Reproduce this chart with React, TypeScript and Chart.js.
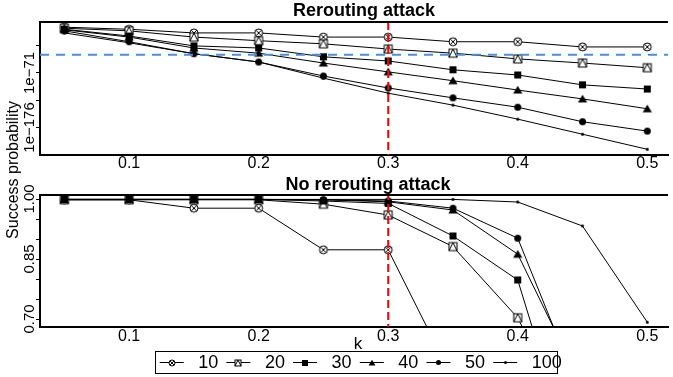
import React, { useEffect, useRef } from "react";
import { Chart, registerables } from "chart.js";

Chart.register(...registerables);

const FONT = "'Liberation Sans', Arial, Helvetica, sans-serif";

// ---------- data ----------
const kValues = [0.05, 0.1, 0.15, 0.2, 0.25, 0.3, 0.35, 0.4, 0.45, 0.5];
const seriesLabels = ["10", "20", "30", "40", "50", "100"];

// Rerouting attack: exponent (log10) of success probability
const reroute10 = [17, 13, 6, 6, -2, -2, -11, -11, -21, -21];
const reroute20 = [15, 10, -2, -9, -15, -25, -33, -44, -52, -61];
const reroute30 = [13, 0, -19, -23, -40, -48, -65, -75, -94, -102];
const reroute40 = [12, -2, -23, -33, -52, -69, -86, -104, -121, -140];
const reroute50 = [10, -11, -34, -50, -77, -100, -119, -137, -165, -183];
const reroute100 = [6, -13, -34, -50, -81, -110, -133, -160, -189, -218];

// No rerouting attack: success probability
const noReroute10 = [0.998, 0.998, 0.977, 0.977, 0.873, 0.873, 0.55, null, null, null];
const noReroute20 = [0.998, 0.998, 0.998, 0.998, 0.987, 0.96, 0.881, 0.703, 0.38, null];
const noReroute30 = [0.999, 0.999, 0.999, 0.999, 0.995, 0.989, 0.9075, 0.7975, 0.27, null];
const noReroute40 = [0.999, 0.999, 0.999, 0.999, 0.998, 0.993, 0.9725, 0.862, 0.53, null];
const noReroute50 = [0.999, 0.999, 0.999, 0.999, 0.998, 0.995, 0.977, 0.902, 0.5, null];
const noReroute100 = [0.999, 0.999, 0.999, 0.999, 0.999, 0.999, 0.999, 0.9925, 0.9325, 0.692];

const rerouteThreshold = -36; // blue dashed line (log10)
const kThreshold = 0.3; // red dashed line

const kRange = [0.0312, 0.516];
const xTicks = [0.1, 0.2, 0.3, 0.4, 0.5];
const topYRange = [-229, 27];
const topYTicks = [-18, -71, -124, -176];
const topYTickLabels = ["", "1e\u221271", "", "1e\u2212176"];
const bottomYRange = [0.68, 1.01];
const bottomYTicks = [1.0, 0.95, 0.9, 0.85, 0.8, 0.75, 0.7];
const bottomYTickLabels = ["1.00", "", "", "0.85", "", "", "0.70"];

const markerKinds = ["circleX", "squareTri", "square", "triangle", "circle", "dot"];
const markerSizes = [8, 8, 7, 8, 7, 3];
const legendMarkerSizes = [6, 6, 6, 6, 5, 3];

function makeMarker(kind: string, s: number): HTMLCanvasElement {
  const size = Math.ceil(s) + 4;
  const c = document.createElement("canvas");
  c.width = size;
  c.height = size;
  const g = c.getContext("2d")!;
  const m = size / 2;
  const h = s / 2;
  g.lineWidth = 1;
  g.strokeStyle = "#000";
  g.fillStyle = "#000";
  if (kind === "circleX") {
    g.beginPath();
    g.arc(m, m, h, 0, Math.PI * 2);
    g.fillStyle = "#fff";
    g.fill();
    g.stroke();
    const d = h * 0.7071;
    g.beginPath();
    g.moveTo(m - d, m - d);
    g.lineTo(m + d, m + d);
    g.moveTo(m + d, m - d);
    g.lineTo(m - d, m + d);
    g.stroke();
  } else if (kind === "squareTri") {
    g.fillStyle = "#fff";
    g.fillRect(m - h, m - h, s, s);
    g.strokeRect(m - h, m - h, s, s);
    g.beginPath();
    g.moveTo(m - h, m + h);
    g.lineTo(m, m - h);
    g.lineTo(m + h, m + h);
    g.stroke();
  } else if (kind === "square") {
    g.fillRect(m - h, m - h, s, s);
  } else if (kind === "triangle") {
    const tw = s * 1.15;
    g.beginPath();
    g.moveTo(m, m - h * 1.05);
    g.lineTo(m + tw / 2, m + h * 0.85);
    g.lineTo(m - tw / 2, m + h * 0.85);
    g.closePath();
    g.fill();
  } else {
    g.beginPath();
    g.arc(m, m, h, 0, Math.PI * 2);
    g.fill();
  }
  return c;
}

type PanelOpts = {
  values: (number | null)[][];
  yRange: number[];
  yTicks: number[];
  yLabels: string[];
  title: string;
  titleX: number;
  titleBaseline: number;
  padTop: number;
  padBottom: number;
  xAxisHeight: number;
  xTickPad: number;
  threshold?: number;
  redExtend: number;
  legend: boolean;
};

function makeConfig(o: PanelOpts, markers: HTMLCanvasElement[], legendMarkers: HTMLCanvasElement[]): any {
  const datasets: any[] = seriesLabels.map((label, i) => ({
    label,
    data: kValues.map((k, j) => ({ x: k, y: o.values[i][j] })),
    borderColor: "#000",
    backgroundColor: "#000",
    borderWidth: 1,
    pointStyle: markers[i],
    pointRadius: 4,
    pointHoverRadius: 4,
    tension: 0,
    spanGaps: false,
    order: -i,
    clip: { left: 8, right: 8, top: 8, bottom: 0 },
  }));
  if (o.threshold !== undefined) {
    datasets.push({
      label: "threshold",
      data: [
        { x: kRange[0], y: o.threshold },
        { x: kRange[1], y: o.threshold },
      ],
      borderColor: "#4a8fd8",
      borderWidth: 2,
      borderDash: [9, 7],
      pointRadius: 0,
      order: -20,
    });
  }

  const panelPlugin = {
    id: "panelDecor",
    afterDatasetsDraw(chart: any) {
      const { ctx, chartArea: a, scales } = chart;
      const x = scales.x.getPixelForValue(kThreshold);
      ctx.save();
      ctx.strokeStyle = "#ff0000";
      ctx.lineWidth = 2;
      ctx.setLineDash([8, 4]);
      ctx.beginPath();
      ctx.moveTo(x, a.top - o.redExtend);
      ctx.lineTo(x, a.bottom);
      ctx.stroke();
      ctx.restore();
    },
    afterDraw(chart: any) {
      const { ctx, chartArea: a, scales } = chart;
      ctx.save();
      // top border
      ctx.strokeStyle = "#000";
      ctx.lineWidth = 2;
      ctx.beginPath();
      ctx.moveTo(a.left - 1, a.top);
      ctx.lineTo(a.right, a.top);
      ctx.stroke();
      // title
      ctx.fillStyle = "#000";
      ctx.font = `bold 18px ${FONT}`;
      ctx.textAlign = "center";
      ctx.textBaseline = "alphabetic";
      ctx.fillText(o.title, o.titleX, o.titleBaseline);
      // rotated y tick labels
      ctx.font = `15px ${FONT}`;
      o.yTicks.forEach((v, i) => {
        const lab = o.yLabels[i];
        if (!lab) return;
        const py = scales.y.getPixelForValue(v);
        ctx.save();
        ctx.translate(34, py);
        ctx.rotate(-Math.PI / 2);
        ctx.textAlign = "center";
        ctx.textBaseline = "alphabetic";
        ctx.fillText(lab, 0, 0);
        ctx.restore();
      });
      if (o.legend) {
        // x-axis title
        ctx.font = `17px ${FONT}`;
        ctx.textAlign = "center";
        ctx.textBaseline = "alphabetic";
        ctx.fillText("k", 358, 179);
        // legend box
        const boxL = 155.5, boxR = 557.5, boxT = 181.5, boxB = 203.5;
        ctx.lineWidth = 1;
        ctx.strokeStyle = "#000";
        ctx.strokeRect(boxL, boxT, boxR - boxL, boxB - boxT);
        ctx.font = `18px ${FONT}`;
        ctx.textAlign = "left";
        ctx.textBaseline = "middle";
        const cy = 192.5;
        seriesLabels.forEach((lab, i) => {
          const cx = 171.7 + i * 66.7;
          ctx.beginPath();
          ctx.moveTo(cx - 12, cy);
          ctx.lineTo(cx + 12, cy);
          ctx.stroke();
          const mk = legendMarkers[i];
          ctx.drawImage(mk, Math.round(cx - mk.width / 2), Math.round(cy - mk.height / 2));
          ctx.fillText(lab, cx + 26.5, cy + 1);
        });
      }
      ctx.restore();
    },
  };

  return {
    type: "line",
    data: { datasets },
    plugins: [panelPlugin],
    options: {
      responsive: false,
      animation: false,
      devicePixelRatio: 1,
      events: [],
      layout: { padding: { top: o.padTop, bottom: o.padBottom, left: 0, right: 0 } },
      plugins: { legend: { display: false }, tooltip: { enabled: false }, title: { display: false } },
      scales: {
        x: {
          type: "linear",
          min: kRange[0],
          max: kRange[1],
          afterBuildTicks: (s: any) => {
            s.ticks = xTicks.map((v) => ({ value: v }));
          },
          afterFit: (s: any) => {
            s.height = o.xAxisHeight;
          },
          ticks: {
            color: "#000",
            font: { size: 16, family: FONT },
            padding: o.xTickPad,
            maxRotation: 0,
            minRotation: 0,
            autoSkip: false,
            callback: (v: any) => Number(v).toFixed(1),
          },
          grid: { display: false, drawTicks: false },
          border: { display: true, color: "#000", width: 2 },
        },
        y: {
          type: "linear",
          min: o.yRange[0],
          max: o.yRange[1],
          afterBuildTicks: (s: any) => {
            s.ticks = o.yTicks.map((v) => ({ value: v }));
          },
          afterFit: (s: any) => {
            s.width = 40;
          },
          ticks: { display: false },
          grid: { display: true, drawOnChartArea: false, drawTicks: true, tickLength: 4, color: "#000", lineWidth: 1 },
          border: { display: true, color: "#000", width: 2 },
        },
      },
    },
  };
}

export default function App() {
  const topRef = useRef<HTMLCanvasElement>(null);
  const botRef = useRef<HTMLCanvasElement>(null);

  useEffect(() => {
    const markers = markerKinds.map((k, i) => makeMarker(k, markerSizes[i]));
    const legendMarkers = markerKinds.map((k, i) => makeMarker(k, legendMarkerSizes[i]));
    const top = new Chart(
      topRef.current!,
      makeConfig(
        {
          values: [reroute10, reroute20, reroute30, reroute40, reroute50, reroute100],
          yRange: topYRange,
          yTicks: topYTicks,
          yLabels: topYTickLabels,
          title: "Rerouting attack",
          titleX: 364,
          titleBaseline: 15.5,
          padTop: 22,
          padBottom: 0,
          xAxisHeight: 17,
          xTickPad: -1,
          threshold: rerouteThreshold,
          redExtend: 0,
          legend: false,
        },
        markers,
        legendMarkers
      )
    );
    const bottom = new Chart(
      botRef.current!,
      makeConfig(
        {
          values: [noReroute10, noReroute20, noReroute30, noReroute40, noReroute50, noReroute100],
          yRange: bottomYRange,
          yTicks: bottomYTicks,
          yLabels: bottomYTickLabels,
          title: "No rerouting attack",
          titleX: 368,
          titleBaseline: 19.5,
          padTop: 25,
          padBottom: 30,
          xAxisHeight: 20,
          xTickPad: 0,
          redExtend: 3,
          legend: true,
        },
        markers,
        legendMarkers
      )
    );
    return () => {
      top.destroy();
      bottom.destroy();
    };
  }, []);

  return (
    <div
      style={{
        position: "absolute",
        left: 0,
        top: 0,
        width: 673,
        height: 377,
        background: "#fff",
        overflow: "hidden",
      }}
    >
      <canvas ref={topRef} width={673} height={172} style={{ position: "absolute", left: 0, top: 0 }} />
      <canvas ref={botRef} width={673} height={207} style={{ position: "absolute", left: 0, top: 170 }} />
      <div
        style={{
          position: "absolute",
          left: 12.5 - 100,
          top: 170 - 10,
          width: 200,
          height: 20,
          lineHeight: "20px",
          textAlign: "center",
          fontFamily: FONT,
          fontSize: 16,
          color: "#000",
          transform: "rotate(-90deg)",
          whiteSpace: "nowrap",
        }}
      >
        Success probability
      </div>
    </div>
  );
}
